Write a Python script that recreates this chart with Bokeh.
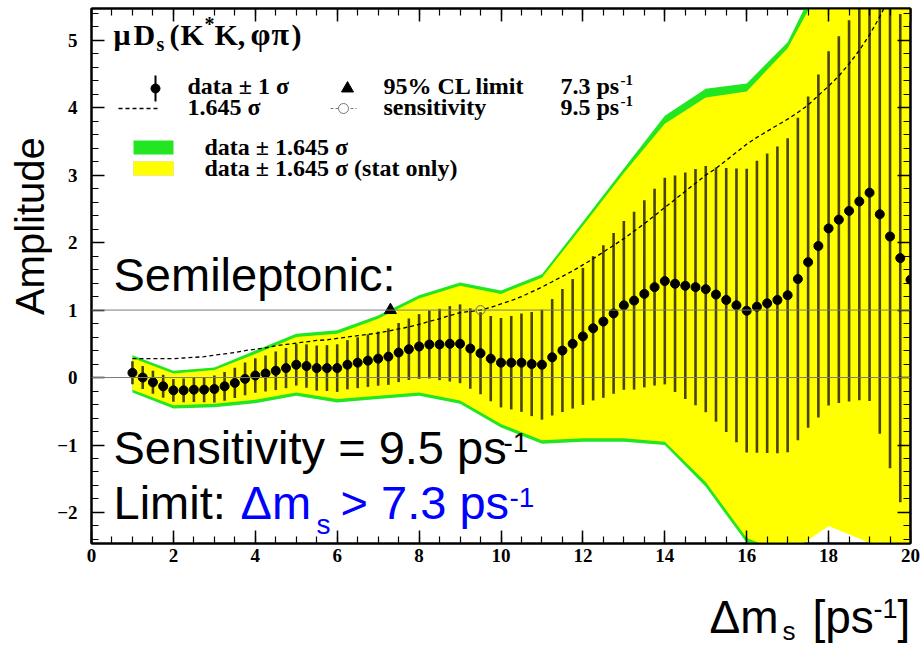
from bokeh.plotting import figure
from bokeh.layouts import row, column
from bokeh.models import (Range1d, Span, Label, BoxAnnotation, LinearAxis,
                          SingleIntervalTicker, ColumnDataSource)
from bokeh.embed import file_html
from bokeh.resources import INLINE
import math

# ---------------- data ----------------
dms = [1.0, 1.25, 1.5, 1.75, 2.0, 2.25, 2.5, 2.75, 3.0, 3.25, 3.5, 3.75,
       4.0, 4.25, 4.5, 4.75, 5.0, 5.25, 5.5, 5.75, 6.0, 6.25, 6.5, 6.75,
       7.0, 7.25, 7.5, 7.75, 8.0, 8.25, 8.5, 8.75, 9.0, 9.25, 9.5, 9.75,
       10.0, 10.25, 10.5, 10.75, 11.0, 11.25, 11.5, 11.75, 12.0, 12.25, 12.5, 12.75,
       13.0, 13.25, 13.5, 13.75, 14.0, 14.25, 14.5, 14.75, 15.0, 15.25, 15.5, 15.75,
       16.0, 16.25, 16.5, 16.75, 17.0, 17.25, 17.5, 17.75, 18.0, 18.25, 18.5, 18.75,
       19.0, 19.25, 19.5, 19.75, 20.0]

amplitude = [0.07, 0.00, -0.07, -0.13, -0.19, -0.19, -0.18, -0.18, -0.17, -0.13, -0.08, -0.02,
             0.03, 0.06, 0.10, 0.14, 0.19, 0.17, 0.14, 0.14, 0.14, 0.19, 0.22, 0.25,
             0.28, 0.31, 0.37, 0.42, 0.46, 0.49, 0.49, 0.50, 0.50, 0.43, 0.36, 0.28,
             0.22, 0.22, 0.22, 0.20, 0.19, 0.30, 0.40, 0.50, 0.61, 0.73, 0.83, 0.95,
             1.07, 1.14, 1.24, 1.34, 1.43, 1.39, 1.36, 1.34, 1.31, 1.23, 1.15, 1.07,
             0.99, 1.05, 1.10, 1.15, 1.22, 1.46, 1.71, 1.95, 2.21, 2.34, 2.47, 2.61,
             2.74, 2.42, 2.09, 1.77, 1.45]

# 1 sigma (total) uncertainty of each amplitude point
sigma = [0.170, 0.170, 0.170, 0.170, 0.170, 0.176, 0.182, 0.188, 0.201, 0.213, 0.225, 0.243,
         0.255, 0.267, 0.286, 0.298, 0.310, 0.322, 0.334, 0.340, 0.353, 0.365, 0.377, 0.389,
         0.401, 0.419, 0.438, 0.456, 0.480, 0.505, 0.529, 0.559, 0.584, 0.596, 0.608, 0.632,
         0.663, 0.693, 0.729, 0.772, 0.815, 0.863, 0.912, 0.960, 1.015, 1.070, 1.131, 1.191,
         1.252, 1.319, 1.386, 1.459, 1.532, 1.605, 1.678, 1.751, 1.824, 1.884, 1.957, 2.030,
         2.103, 2.164, 2.219, 2.274, 2.328, 2.389, 2.456, 2.541, 2.626, 2.717, 2.827, 2.948,
         3.088, 3.252, 3.435, 3.617, 3.830]

band_dms = [1, 2, 3, 4, 5, 6, 7, 8, 9, 10, 11, 12, 13, 14, 15, 16, 17, 18, 19, 20]
band_total_hi = [0.33, 0.10, 0.15, 0.40, 0.65, 0.70, 0.92, 1.22, 1.41, 1.29,
                 1.53, 2.31, 3.10, 3.88, 4.28, 4.36, 4.97, 6.20, 7.00, 8.00]
band_total_lo = [-0.22, -0.46, -0.44, -0.38, -0.27, -0.37, -0.32, -0.27, -0.39, -0.74,
                 -0.98, -0.95, -0.95, -1.00, -1.62, -2.45, -2.69, -1.97, -2.10, -4.50]
band_stat_hi = [0.29, 0.06, 0.11, 0.35, 0.60, 0.65, 0.87, 1.17, 1.36, 1.24,
                1.48, 2.25, 3.03, 3.76, 4.15, 4.24, 4.88, 6.00, 6.80, 7.80]
band_stat_lo = [-0.18, -0.41, -0.39, -0.33, -0.22, -0.32, -0.27, -0.22, -0.34, -0.69,
                -0.93, -0.90, -0.90, -0.95, -1.55, -2.38, -2.62, -2.20, -2.45, -4.40]

limit_95cl = 7.3
sensitivity = 9.5
cl_factor = 1.645

x_ticks_step = 2
y_ticks_step = 1

# ---------------- geometry (global page pixels) ----------------
W, H = 924, 648
LEFT_STRIP = 52          # strip holding the y title
BOTTOM_STRIP = 58        # strip holding the x title
FL, FR, FT, FB = 91, 910, 8, 543   # frame edges on the page
XMIN, XMAX = 0.0, 20.0
YMIN, YMAX = -2.46, 5.47

MW, MH = W - LEFT_STRIP, H - BOTTOM_STRIP


def X(px):
    return XMIN + (px - FL) / (FR - FL) * (XMAX - XMIN)


def Y(py):
    return YMAX - (py - FT) / (FB - FT) * (YMAX - YMIN)


p = figure(width=MW, height=MH, x_range=Range1d(XMIN, XMAX), y_range=Range1d(YMIN, YMAX),
           output_backend="svg", toolbar_location=None,
           min_border_left=FL - LEFT_STRIP, min_border_right=W - FR,
           min_border_top=FT, min_border_bottom=MH - FB)
p.grid.visible = False
p.outline_line_color = "black"
p.outline_line_width = 2
p.background_fill_color = "white"
p.border_fill_color = "white"

p.add_layout(LinearAxis(), "above")
p.add_layout(LinearAxis(), "right")

for ax in p.xaxis:
    ax.ticker = SingleIntervalTicker(interval=x_ticks_step, num_minor_ticks=4)
for ax in p.yaxis:
    ax.ticker = SingleIntervalTicker(interval=y_ticks_step, num_minor_ticks=5)

for ax in list(p.xaxis) + list(p.yaxis):
    ax.major_tick_in = 13
    ax.major_tick_out = 0
    ax.minor_tick_in = 7
    ax.minor_tick_out = 0
    ax.major_tick_line_width = 1.5
    ax.minor_tick_line_width = 1.2
    ax.major_tick_line_color = "black"
    ax.minor_tick_line_color = "black"
    ax.axis_line_width = 2
    ax.major_label_text_font = "Liberation Serif"
    ax.major_label_text_font_style = "bold"
    ax.major_label_text_font_size = "19px"
    ax.major_label_text_color = "black"

p.xaxis[0].major_label_standoff = 5
p.yaxis[0].major_label_standoff = 14
for ax in (p.above[0], p.right[0]):
    ax.major_label_text_font_size = "1px"
    ax.major_label_text_color = None
    ax.major_label_standoff = 0

# ---------------- bands ----------------
p.varea(x=band_dms, y1=band_total_lo, y2=band_total_hi, fill_color="#22e622")
p.varea(x=band_dms, y1=band_stat_lo, y2=band_stat_hi, fill_color="#ffff00")

p.add_layout(Span(location=0, dimension="width", line_color="#7a7a7a", line_width=1))
p.add_layout(Span(location=1, dimension="width", line_color="#7a7a7a", line_width=1))

# ---------------- data ----------------
src = ColumnDataSource(dict(
    x=dms, a=amplitude,
    lo=[a - s for a, s in zip(amplitude, sigma)],
    hi=[a + s for a, s in zip(amplitude, sigma)],
    sens=[cl_factor * s for s in sigma],
))
p.segment(x0="x", y0="lo", x1="x", y1="hi", source=src, line_color="#4a4400", line_width=2.6)
p.line(x="x", y="sens", source=src, line_color="black", line_width=1.3, line_dash="4 3")
p.scatter(x="x", y="a", source=src, size=9, color="black")
p.scatter(x=[limit_95cl], y=[1.0], marker="triangle", size=12, color="black")
p.scatter(x=[sensitivity], y=[1.0], marker="circle", size=9, fill_color=None,
          line_color="#666666", line_width=1)

SERIF = "Liberation Serif"
SANS = "Liberation Sans"
BASE_SHIFT = 0.33   # baseline correction, in em


def lab(fig, fx, fy, px, py, text, size, font=SERIF, style="bold", color="black", **kw):
    sz = float(size.replace("px", ""))
    fig.add_layout(Label(x=fx(px), y=fy(py - BASE_SHIFT * sz), text=text, text_font=font,
                         text_font_style=style, text_font_size=size, text_color=color,
                         text_baseline="alphabetic", **kw))


def mlab(*a, **k):
    lab(p, X, Y, *a, **k)


# title  muD_s(K*K, phi pi)
mlab(113, 44, "\u03bc", "30px")
mlab(133, 44, "D", "30px")
mlab(156, 50, "s", "20px")
mlab(169, 44, "(", "30px")
mlab(180, 44, "K", "30px")
mlab(204, 30, "*", "20px")
mlab(214, 44, "K,", "30px")
mlab(250, 44, "\u03c6", "32px")
mlab(271, 44, "\u03c0", "32px")
mlab(291, 44, ")", "30px")

# legend rows
p.segment(x0=[X(155)], y0=[Y(75)], x1=[X(155)], y1=[Y(101)], line_color="black", line_width=2)
p.scatter(x=[X(155)], y=[Y(88)], size=9, color="black")
mlab(187, 93, "data \u00b1 1 \u03c3", "24px")
p.scatter(x=[X(347)], y=[Y(88)], marker="triangle", size=12, color="black")
mlab(383, 93, "95% CL limit", "24px")
mlab(560, 93, "7.3 ps", "24px")
mlab(620, 84, "-1", "15px")

p.line(x=[X(118), X(160)], y=[Y(108), Y(108)], line_color="black", line_width=1.3, line_dash="4 3")
mlab(187, 114, "1.645 \u03c3", "24px")
p.line(x=[X(330), X(356)], y=[Y(108), Y(108)], line_color="#777777", line_width=1.2, line_dash="3 2")
p.scatter(x=[X(343)], y=[Y(108)], marker="circle", size=10, fill_color="white", line_color="#777777")
mlab(383, 114, "sensitivity", "24px")
mlab(560, 114, "9.5 ps", "24px")
mlab(620, 105, "-1", "15px")

p.add_layout(BoxAnnotation(left=X(133), right=X(173), top=Y(140), bottom=Y(154),
                           fill_color="#22e622", fill_alpha=1, line_color=None))
mlab(204, 154, "data \u00b1 1.645 \u03c3", "24px")
p.add_layout(BoxAnnotation(left=X(133), right=X(173), top=Y(161), bottom=Y(175),
                           fill_color="#ffff00", fill_alpha=1, line_color="#d0c060", line_width=1))
mlab(204, 175, "data \u00b1 1.645 \u03c3 (stat only)", "24px")

# ---------------- slide annotations ----------------
mlab(113, 290, "Semileptonic:", "47px", font=SANS, style="normal")
mlab(113, 463, "Sensitivity = 9.5 ps", "47px", font=SANS, style="normal")
mlab(503, 451, "-1", "28px", font=SANS, style="normal")
mlab(113, 518, "Limit: ", "47px", font=SANS, style="normal")
BLUE = "#0000ff"
mlab(240, 518, "\u0394m", "47px", font=SANS, style="normal", color=BLUE)
mlab(316, 533, "s", "28px", font=SANS, style="normal", color=BLUE)
mlab(340, 518, "> 7.3 ps", "47px", font=SANS, style="normal", color=BLUE)
mlab(509, 506, "-1", "28px", font=SANS, style="normal", color=BLUE)


# ---------------- strips for the axis titles ----------------
def strip(width, height, x0, y0):
    f = figure(width=width, height=height, x_range=Range1d(x0, x0 + width),
               y_range=Range1d(y0 + height, y0), output_backend="svg", toolbar_location=None,
               x_axis_location=None, y_axis_location=None, min_border=0)
    f.grid.visible = False
    f.outline_line_color = None
    f.background_fill_color = "white"
    f.border_fill_color = "white"
    return f


left = strip(LEFT_STRIP, MH, 0, 0)
left.add_layout(Label(x=29, y=240, text="Amplitude", text_font=SANS, text_font_size="40px",
                      text_color="black", angle=math.pi / 2, text_align="center",
                      text_baseline="middle"))

bottom = strip(W, BOTTOM_STRIP, 0, MH)
ident = (lambda v: v)


def blab(*a, **k):
    lab(bottom, ident, ident, *a, **k)


blab(709, 632, "\u0394m", "46px", font=SANS, style="normal")
blab(782, 639, "s", "26px", font=SANS, style="normal")
blab(812, 632, "[ps", "46px", font=SANS, style="normal")
blab(873, 617, "-1", "27px", font=SANS, style="normal")
blab(897, 632, "]", "46px", font=SANS, style="normal")

layout = column(row(left, p, spacing=0), bottom, spacing=0)

open("out.html", "w").write(file_html(layout, INLINE))
